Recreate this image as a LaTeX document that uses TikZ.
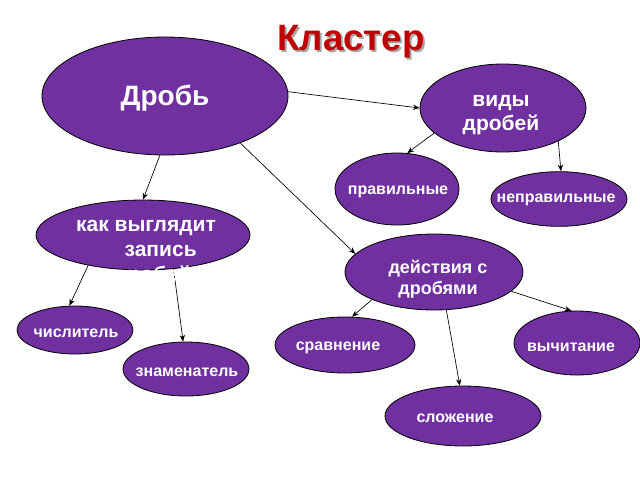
\documentclass[tikz,border=0pt]{standalone}
\usepackage{fontspec}
\setmainfont{Liberation Sans}
\usetikzlibrary{shapes.geometric,arrows.meta}
\definecolor{clusterviolet}{RGB}{112,48,160}
\definecolor{titlered}{RGB}{192,0,0}

\begin{document}
\begin{tikzpicture}[x=0.75pt,y=0.75pt,yscale=-1,xscale=1,
  oval/.style={ellipse,draw=black,line width=0.6pt,fill=clusterviolet,inner sep=0pt},
  lbl/.style={text=white,align=center,inner sep=0pt},
  arr/.style={draw=black,line width=0.5pt,-{Stealth[length=5pt,width=4pt]}}]
\useasboundingbox (0,0) rectangle (640,480);
%Ellipses
\node [oval,minimum width=184.5pt,minimum height=88.5pt] (drob) at (165,96) {};
\node [oval,minimum width=124.5pt,minimum height=66pt] (vidy) at (503,108) {};
\node [oval,minimum width=93pt,minimum height=54pt] (prav) at (397,189) {};
\node [oval,minimum width=102pt,minimum height=41pt] (neprav) at (559,199) {};
\node [oval,minimum width=160.5pt,minimum height=52.5pt] (kak) at (143,235) {};
\node [oval,minimum width=133.5pt,minimum height=57pt] (dejst) at (434,272) {};
\node [oval,minimum width=87pt,minimum height=36pt] (chisl) at (75,330) {};
\node [oval,minimum width=94.5pt,minimum height=40.5pt] (znam) at (186,369) {};
\node [oval,minimum width=105pt,minimum height=42pt] (sravn) at (345,345) {};
\node [oval,minimum width=94.5pt,minimum height=48pt] (vychit) at (577,343) {};
\node [oval,minimum width=117pt,minimum height=45pt] (slozh) at (463,416) {};
%Straight Lines
\draw [arr] (drob.2) -- (vidy.180);
\draw [arr] (drob.-95) -- (kak.90);
\draw [arr] (drob.-32) -- (dejst.167);
\draw [arr] (vidy.-160) -- (prav.74);
\draw [arr] (vidy.-31) -- (neprav.86);
\draw [arr] (kak.-151) -- (chisl.103);
\draw [arr] (kak.-48) -- (znam.96);
\draw [arr] (dejst.-156) -- (sravn.76);
\draw [arr] (dejst.-14) -- (vychit.100);
\draw [arr] (dejst.-72) -- (slozh.96);
% Text Node
\node [text=gray!70,font=\bfseries\fontsize{27.5pt}{32pt}\selectfont,anchor=base] (titleshadow) at (353,52) {Кластер};
\node [text=titlered,font=\bfseries\fontsize{27.5pt}{32pt}\selectfont,anchor=base] (title) at (351,50) {Кластер};
% Text Node
\node [lbl,font=\bfseries\fontsize{21pt}{25pt}\selectfont] (drobtxt) at (165,98) {Дробь};
\node [lbl,font=\bfseries\fontsize{15.75pt}{18pt}\selectfont] (vidytxt) at (501,115) {виды\\дробей};
\node [lbl,font=\bfseries\fontsize{12pt}{14pt}\selectfont] (pravtxt) at (398,192) {правильные};
\node [lbl,font=\bfseries\fontsize{12pt}{14pt}\selectfont] (nepravtxt) at (556,200) {неправильные};
\node [lbl,font=\bfseries\fontsize{15.75pt}{18.75pt}\selectfont] (kaktxt) at (146,253) {как выглядит\\\hspace*{22pt}запись\\\hspace*{10pt}дробей};
\node [lbl,font=\bfseries\fontsize{13.5pt}{15.75pt}\selectfont] (dejsttxt) at (438,279) {действия с\\дробями};
\node [lbl,font=\bfseries\fontsize{12pt}{14pt}\selectfont] (chisltxt) at (76,333) {числитель};
\node [lbl,font=\bfseries\fontsize{12pt}{14pt}\selectfont] (znamtxt) at (187,372) {знаменатель};
\node [lbl,font=\bfseries\fontsize{12pt}{14pt}\selectfont] (sravntxt) at (338,348) {сравнение};
\node [lbl,font=\bfseries\fontsize{12pt}{14pt}\selectfont] (vychittxt) at (571,347) {вычитание};
\node [lbl,font=\bfseries\fontsize{12pt}{14pt}\selectfont] (slozhtxt) at (455,418) {сложение};
\end{tikzpicture}
\end{document}
